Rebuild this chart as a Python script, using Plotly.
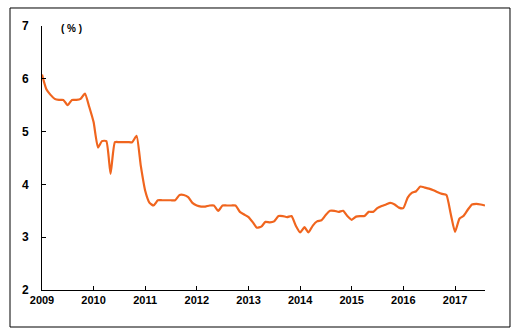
import pandas as pd
import plotly.graph_objects as go

# Monthly rate, Jan 2009 - Aug 2017 (%)
start_month = "2009-01-01"
rate_2009 = [6.08, 5.80, 5.70, 5.62, 5.60, 5.60, 5.50, 5.60, 5.60, 5.62, 5.72, 5.47]
rate_2010 = [5.18, 4.70, 4.82, 4.82, 4.20, 4.80, 4.80, 4.80, 4.80, 4.80, 4.92, 4.35]
rate_2011 = [3.88, 3.65, 3.60, 3.70, 3.70, 3.70, 3.70, 3.70, 3.80, 3.80, 3.76, 3.65]
rate_2012 = [3.60, 3.58, 3.58, 3.60, 3.60, 3.50, 3.60, 3.60, 3.60, 3.60, 3.48, 3.43]
rate_2013 = [3.38, 3.28, 3.18, 3.20, 3.29, 3.28, 3.30, 3.40, 3.40, 3.38, 3.40, 3.22]
rate_2014 = [3.09, 3.19, 3.09, 3.22, 3.30, 3.32, 3.42, 3.50, 3.50, 3.48, 3.50, 3.40]
rate_2015 = [3.33, 3.39, 3.40, 3.40, 3.48, 3.48, 3.55, 3.59, 3.62, 3.65, 3.62, 3.56]
rate_2016 = [3.55, 3.75, 3.84, 3.87, 3.96, 3.94, 3.92, 3.89, 3.85, 3.82, 3.80, 3.45]
rate_2017 = [3.10, 3.35, 3.40, 3.52, 3.62, 3.63, 3.62, 3.60]

rates = (rate_2009 + rate_2010 + rate_2011 + rate_2012 + rate_2013
         + rate_2014 + rate_2015 + rate_2016 + rate_2017)
months = pd.date_range(start_month, periods=len(rates), freq="MS")

y_ticks = [2, 3, 4, 5, 6, 7]
unit_label = "( % )"

fig = go.Figure(
    go.Scatter(
        x=months,
        y=rates,
        mode="lines",
        line=dict(color="#F0651E", width=2.2, shape="spline", smoothing=0.5),
        hoverinfo="skip",
    )
)

axis_font = dict(family="Liberation Sans, Arial, sans-serif", size=11, color="black")

fig.update_layout(
    width=523,
    height=335,
    margin=dict(l=42, r=38, t=26, b=45),
    paper_bgcolor="white",
    plot_bgcolor="white",
    showlegend=False,
    xaxis=dict(
        type="date",
        range=[months[0], months[-1]],
        tick0=start_month,
        dtick="M12",
        tickformat="<b>%Y</b>",
        ticks="inside",
        ticklen=4,
        tickcolor="black",
        showline=True,
        linecolor="black",
        linewidth=1,
        showgrid=False,
        zeroline=False,
        tickfont=axis_font,
    ),
    yaxis=dict(
        range=[2, 7],
        tickvals=y_ticks,
        ticktext=[f"<b>{v}</b>" for v in y_ticks],
        ticks="inside",
        ticklen=4,
        tickcolor="black",
        showline=True,
        linecolor="black",
        linewidth=1,
        showgrid=False,
        zeroline=False,
        tickfont=dict(family="Liberation Sans, Arial, sans-serif", size=12, color="black"),
        ticklabelstandoff=10,
    ),
    annotations=[
        dict(
            text=f"<b>{unit_label}</b>",
            xref="paper", yref="paper",
            x=0.038, y=0.99,
            xanchor="left", yanchor="middle",
            showarrow=False,
            font=dict(family="Liberation Sans, Arial, sans-serif", size=10, color="black"),
        )
    ],
    shapes=[
        dict(
            type="rect",
            xref="paper", yref="paper",
            x0=-0.0722, x1=1.0564, y0=-0.1402, y1=1.0682,
            line=dict(color="black", width=1),
            fillcolor="rgba(0,0,0,0)",
        )
    ],
)

fig.write_html("out.html")
